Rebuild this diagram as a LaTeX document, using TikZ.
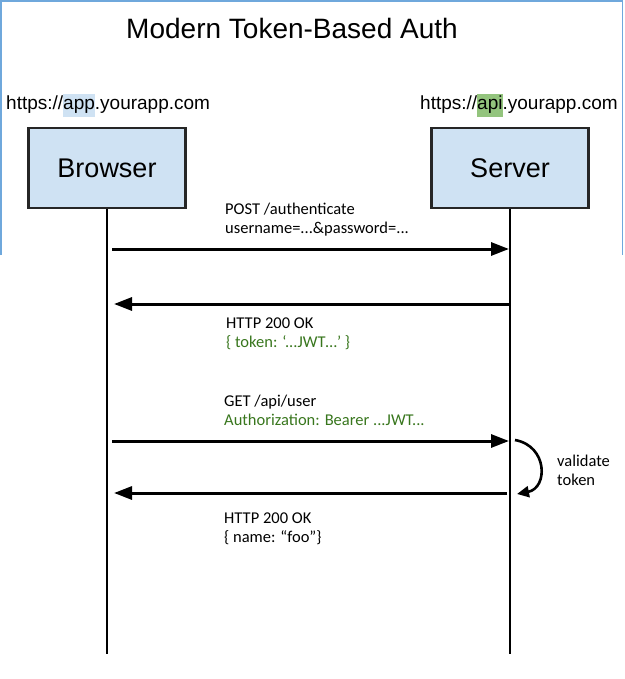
\documentclass[tikz,border=0pt]{standalone}
\usepackage{fontspec}
\setmainfont{Liberation Sans}
\newfontfamily\lblfont{Carlito}
\usetikzlibrary{arrows.meta}
\definecolor{boxblue}{HTML}{CFE2F3}
\definecolor{apigreen}{HTML}{93C47D}
\definecolor{txtgreen}{HTML}{38761D}
\definecolor{framecol}{HTML}{6FA8DC}
\begin{document}
\begin{tikzpicture}[x=1pt,y=-1pt,
  actor/.style={draw=black!85,line width=2.5pt,fill=boxblue,minimum width=157pt,minimum height=80pt,inner sep=0pt,font=\fontsize{27}{32}\selectfont},
  url/.style={anchor=base west,inner sep=0pt,font=\fontsize{19}{23}\selectfont},
  life/.style={line width=2.6pt,black},
  msg/.style={line width=3pt,black,-{Triangle[length=18pt,width=13pt]}},
  lbl/.style={anchor=base west,inner sep=0pt,align=left,font=\lblfont\fontsize{16.5}{19}\selectfont}]
\useasboundingbox (0,0) rectangle (624,679);
\draw[framecol,line width=1.2pt] (1,255) -- (1,1) -- (622.5,1) -- (622.5,255);
\node[font=\fontsize{28}{32}\selectfont,anchor=base,inner sep=0pt] (title) at (292,39) {Modern Token-Based Auth};
\setlength{\fboxsep}{0pt}
\node[url] (urla) at (6,110) {https://\colorbox{boxblue}{\strut app}.yourapp.com};
\node[url] (urlb) at (420,110) {https://\colorbox{apigreen}{\strut api}.yourapp.com};
\node[actor] (br) at (107,168) {Browser};
\node[actor] (sv) at (510,168) {Server};
\coordinate (brend) at (br.south |- 0,654);
\coordinate (svend) at (sv.south |- 0,654);
\draw[life] (br.south) -- (brend);
\draw[life] (sv.south) -- (svend);
% message anchor points
\coordinate (b1) at (112,249); \coordinate (s1) at (509,249);
\coordinate (b2) at (114,304); \coordinate (s2) at (509,304);
\coordinate (b3) at (112,441); \coordinate (s3) at (509,441);
\coordinate (b4) at (114,493); \coordinate (s4) at (507,493);
\coordinate (v1) at (515,440); \coordinate (v2) at (517,494);
\draw[msg] (b1) -- (s1);
\draw[msg] (s2) -- (b2);
\draw[msg] (b3) -- (s3);
\draw[msg] (s4) -- (b4);
\draw[line width=2.6pt,-{Triangle[length=12pt,width=11pt]}] (v1) .. controls (548,446) and (548,488) .. (v2);
\node[lbl] (m1) at (225,233) {POST /authenticate\\username=...\&password=...};
\node[lbl] (m2) at (226,347) {HTTP 200 OK\\\textcolor{txtgreen}{\{ token: ‘...JWT…’ \}}};
\node[lbl] (m3) at (224,425) {GET /api/user\\\textcolor{txtgreen}{Authorization: Bearer ...JWT...}};
\node[lbl] (m4) at (224,542) {HTTP 200 OK\\\{ name: “foo”\}};
\node[lbl] (val) at (557,485) {validate\\token};
\end{tikzpicture}
\end{document}
